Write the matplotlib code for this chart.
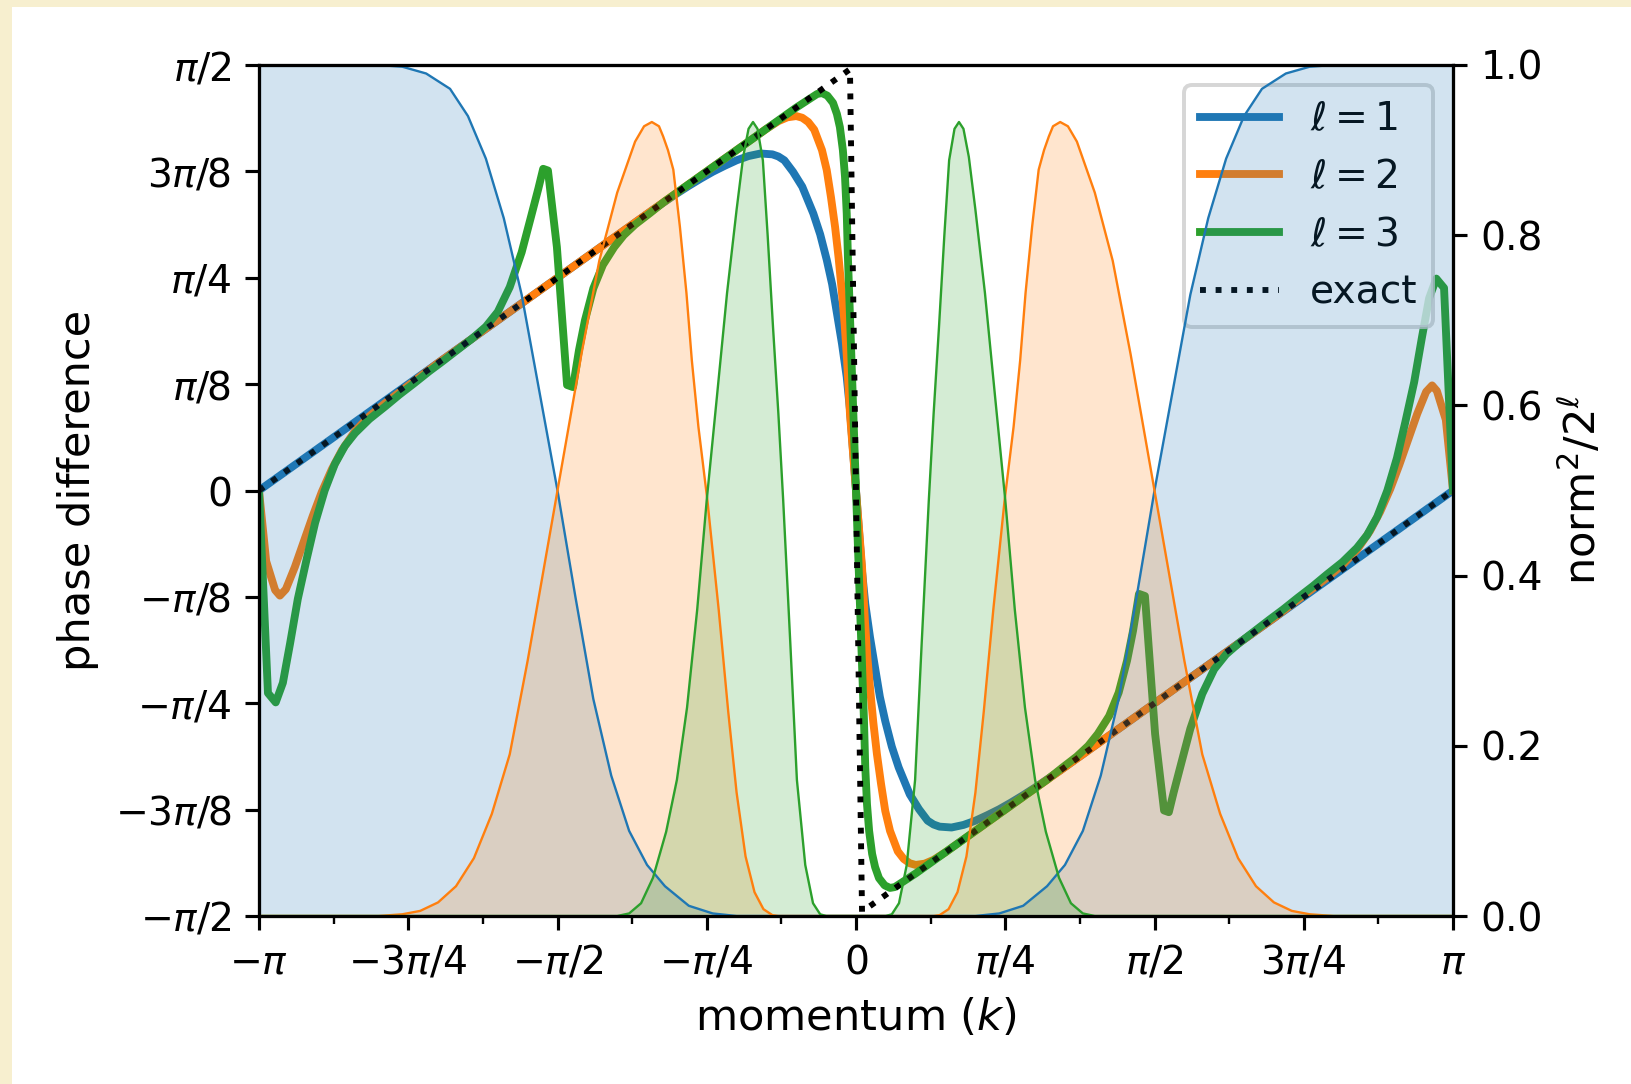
import numpy as np
import matplotlib
matplotlib.use("Agg")
import matplotlib.pyplot as plt
from matplotlib.patches import Rectangle
from matplotlib.ticker import MultipleLocator

# momentum in units of pi, phase in units of pi/2
k_l1 = [-1.0, -0.8, -0.6, -0.4, -0.34, -0.32, -0.30, -0.28, -0.26, -0.24, -0.22, -0.20, -0.18, -0.16, -0.14,
        -0.13, -0.12, -0.1055, -0.09, -0.0715, -0.06, -0.049, -0.04, -0.032, -0.0235, -0.0156, -0.0101,
        0.0101, 0.0156, 0.0235, 0.032, 0.04, 0.049, 0.06, 0.0715, 0.09, 0.1055, 0.12, 0.13,
        0.14, 0.16, 0.18, 0.20, 0.22, 0.24, 0.26, 0.28, 0.30, 0.32, 0.34, 0.4, 0.6, 0.8, 1.0]
ph_l1 = [0.0, 0.2, 0.4, 0.6, 0.66, 0.679, 0.698, 0.716, 0.733, 0.749, 0.763, 0.776, 0.786, 0.792, 0.790,
         0.785, 0.776, 0.749, 0.714, 0.651, 0.602, 0.542, 0.485, 0.417, 0.345, 0.267, 0.19,
         -0.19, -0.267, -0.345, -0.417, -0.485, -0.542, -0.602, -0.651, -0.714, -0.749, -0.776, -0.785,
         -0.790, -0.792, -0.786, -0.776, -0.763, -0.749, -0.733, -0.716, -0.698, -0.679, -0.66, -0.6, -0.4, -0.2, 0.0]

k_l2 = [-1.0, -0.988, -0.973, -0.965, -0.955, -0.94, -0.923, -0.91, -0.895, -0.878, -0.861, -0.839, -0.815,
        -0.789, -0.76, -0.73, -0.70, -0.4, -0.15, -0.13, -0.115, -0.10, -0.09, -0.08, -0.07, -0.057, -0.049,
        -0.042, -0.035, -0.029, -0.0235, -0.019, -0.015, -0.0101,
        0.0101, 0.015, 0.019, 0.0235, 0.029, 0.035, 0.042, 0.049, 0.057, 0.07, 0.08, 0.09, 0.10, 0.115,
        0.13, 0.15, 0.4, 0.70, 0.73, 0.76, 0.789, 0.815, 0.839, 0.861, 0.878, 0.895, 0.91, 0.923, 0.94,
        0.955, 0.965, 0.973, 0.988, 1.0]
ph_l2 = [0.0, -0.166, -0.234, -0.247, -0.232, -0.18, -0.112, -0.06, -0.004, 0.05, 0.095, 0.140, 0.175,
         0.205, 0.236, 0.268, 0.30, 0.6, 0.85, 0.868, 0.877, 0.880, 0.876, 0.866, 0.848, 0.80, 0.753,
         0.69, 0.619, 0.545, 0.464, 0.39, 0.307, 0.18,
         -0.18, -0.307, -0.39, -0.464, -0.545, -0.619, -0.69, -0.753, -0.80, -0.848, -0.866, -0.876, -0.880, -0.877,
         -0.868, -0.85, -0.6, -0.30, -0.268, -0.236, -0.205, -0.175, -0.140, -0.095, -0.05, 0.004, 0.06, 0.112, 0.18,
         0.232, 0.247, 0.234, 0.166, 0.0]

k_l3 = [-1.0, -0.985, -0.972, -0.960, -0.948, -0.935, -0.92, -0.906, -0.89, -0.873, -0.856, -0.839, -0.815,
        -0.789, -0.765, -0.74, -0.715, -0.693, -0.643, -0.62, -0.60, -0.58, -0.56, -0.545, -0.532, -0.524,
        -0.516, -0.501, -0.484, -0.474, -0.464, -0.454, -0.44, -0.424, -0.405, -0.389, -0.37, -0.345, -0.32,
        -0.30, -0.10, -0.077, -0.065, -0.057, -0.048, -0.0385, -0.032, -0.027, -0.022, -0.0184, -0.0155,
        -0.0134, -0.0101,
        0.0101, 0.0134, 0.0155, 0.0184, 0.022, 0.027, 0.032, 0.0385, 0.048, 0.057, 0.065, 0.077, 0.10,
        0.30, 0.32, 0.345, 0.37, 0.389, 0.405, 0.424, 0.44, 0.454, 0.464, 0.474, 0.484, 0.501, 0.516,
        0.524, 0.532, 0.545, 0.56, 0.58, 0.60, 0.62, 0.643, 0.693, 0.715, 0.74, 0.765, 0.789, 0.815,
        0.839, 0.856, 0.873, 0.89, 0.906, 0.92, 0.935, 0.948, 0.960, 0.972, 0.985, 1.0]
ph_l3 = [0.0, -0.476, -0.498, -0.452, -0.36, -0.255, -0.16, -0.076, 0.0, 0.062, 0.105, 0.135, 0.168,
         0.197, 0.225, 0.252, 0.28, 0.303, 0.357, 0.385, 0.42, 0.478, 0.56, 0.64, 0.71, 0.756,
         0.752, 0.572, 0.248, 0.243, 0.33, 0.40, 0.475, 0.53, 0.572, 0.60, 0.625, 0.652, 0.68,
         0.70, 0.90, 0.921, 0.932, 0.934, 0.928, 0.911, 0.885, 0.854, 0.80, 0.737, 0.65,
         0.542, 0.41,
         -0.41, -0.542, -0.65, -0.737, -0.80, -0.854, -0.885, -0.911, -0.928, -0.934, -0.932, -0.921, -0.90,
         -0.70, -0.68, -0.652, -0.625, -0.60, -0.572, -0.53, -0.475, -0.40, -0.33, -0.243, -0.248, -0.572, -0.752,
         -0.756, -0.71, -0.64, -0.56, -0.478, -0.42, -0.385, -0.357, -0.303, -0.28, -0.252, -0.225, -0.197, -0.168,
         -0.135, -0.105, -0.062, 0.0, 0.076, 0.16, 0.255, 0.36, 0.452, 0.498, 0.476, 0.0]

k_exact = [-1.0, -0.0101, 0.0101, 1.0]
ph_exact = [0.0, 0.99, -0.99, 0.0]

# norm^2 / 2^l
kn_l1 = [-1.0, -0.80, -0.76, -0.72, -0.68, -0.65, -0.62, -0.59, -0.56, -0.53, -0.50, -0.47, -0.44, -0.41,
         -0.38, -0.35, -0.32, -0.28, -0.24, -0.20, 0.20, 0.24, 0.28, 0.32, 0.35, 0.38, 0.41, 0.44, 0.47,
         0.50, 0.53, 0.56, 0.59, 0.62, 0.65, 0.68, 0.72, 0.76, 0.80, 1.0]
nm_l1 = [1.0, 1.0, 0.998, 0.99, 0.972, 0.94, 0.89, 0.82, 0.73, 0.615, 0.50, 0.375, 0.255, 0.165,
         0.10, 0.06, 0.035, 0.012, 0.003, 0.0, 0.0, 0.003, 0.012, 0.035, 0.06, 0.10, 0.165, 0.255, 0.375,
         0.50, 0.615, 0.73, 0.82, 0.89, 0.94, 0.972, 0.99, 0.998, 1.0, 1.0]

kn_l2 = [-1.0, -0.80, -0.76, -0.73, -0.70, -0.67, -0.64, -0.61, -0.58, -0.55, -0.52, -0.49, -0.46, -0.43,
         -0.40, -0.37, -0.355, -0.342, -0.33, -0.323, -0.315, -0.306, -0.295, -0.284, -0.275, -0.264, -0.249,
         -0.23, -0.214, -0.20, -0.185, -0.17, -0.155, -0.14, -0.13,
         0.13, 0.14, 0.155, 0.17, 0.185, 0.20, 0.214, 0.23, 0.249, 0.264, 0.275, 0.284, 0.295, 0.306,
         0.315, 0.323, 0.33, 0.342, 0.355, 0.37, 0.40, 0.43, 0.46, 0.49, 0.52, 0.55, 0.58, 0.61, 0.64,
         0.67, 0.70, 0.73, 0.76, 0.80, 1.0]
nm_l2 = [0.0, 0.0, 0.002, 0.006, 0.016, 0.035, 0.068, 0.12, 0.19, 0.30, 0.42, 0.54, 0.66, 0.77,
         0.85, 0.91, 0.928, 0.933, 0.928, 0.916, 0.90, 0.877, 0.810, 0.732, 0.653, 0.575, 0.489,
         0.36, 0.24, 0.145, 0.07, 0.028, 0.008, 0.001, 0.0,
         0.0, 0.001, 0.008, 0.028, 0.07, 0.145, 0.24, 0.36, 0.489, 0.575, 0.653, 0.732, 0.810, 0.877,
         0.90, 0.916, 0.928, 0.933, 0.928, 0.91, 0.85, 0.77, 0.66, 0.54, 0.42, 0.30, 0.19, 0.12, 0.068,
         0.035, 0.016, 0.006, 0.002, 0.0, 0.0]

kn_l3 = [-1.0, -0.40, -0.38, -0.36, -0.34, -0.318, -0.30, -0.283, -0.266, -0.250, -0.233, -0.216, -0.20,
         -0.189, -0.18, -0.1725, -0.165, -0.156, -0.148, -0.139, -0.130, -0.122, -0.11, -0.099, -0.085,
         -0.072, -0.06, -0.05,
         0.05, 0.06, 0.072, 0.085, 0.099, 0.11, 0.122, 0.130, 0.139, 0.148, 0.156, 0.165, 0.1725, 0.18,
         0.189, 0.20, 0.216, 0.233, 0.250, 0.266, 0.283, 0.30, 0.318, 0.34, 0.36, 0.38, 0.40, 1.0]
nm_l3 = [0.0, 0.0, 0.003, 0.015, 0.045, 0.099, 0.16, 0.245, 0.36, 0.489, 0.61, 0.732, 0.83,
         0.892, 0.925, 0.933, 0.925, 0.888, 0.80, 0.692, 0.59, 0.489, 0.32, 0.16, 0.06,
         0.015, 0.002, 0.0,
         0.0, 0.002, 0.015, 0.06, 0.16, 0.32, 0.489, 0.59, 0.692, 0.80, 0.888, 0.925, 0.933, 0.925,
         0.892, 0.83, 0.732, 0.61, 0.489, 0.36, 0.245, 0.16, 0.099, 0.045, 0.015, 0.003, 0.0, 0.0]

x_ticks = [r'$-\pi$', r'$-3\pi/4$', r'$-\pi/2$', r'$-\pi/4$', r'$0$', r'$\pi/4$', r'$\pi/2$', r'$3\pi/4$', r'$\pi$']
y_ticks = [r'$-\pi/2$', r'$-3\pi/8$', r'$-\pi/4$', r'$-\pi/8$', r'$0$', r'$\pi/8$', r'$\pi/4$', r'$3\pi/8$', r'$\pi/2$']

phases = [(k_l1, ph_l1, 'tab:blue', r'$\ell=1$'),
          (k_l2, ph_l2, 'tab:orange', r'$\ell=2$'),
          (k_l3, ph_l3, 'tab:green', r'$\ell=3$')]
norms = [(kn_l1, nm_l1, 'tab:blue'), (kn_l2, nm_l2, 'tab:orange'), (kn_l3, nm_l3, 'tab:green')]

W, H, DPI = 1631, 1084, 283
fig = plt.figure(figsize=(W / DPI, H / DPI), dpi=DPI)
fig.patch.set_facecolor('#f7efcf')
fig.add_artist(Rectangle((12 / W, 0), 1, (H - 7) / H, transform=fig.transFigure,
                         facecolor='white', edgecolor='none', zorder=0))

ax1 = fig.add_axes([259 / W, 1 - 916 / H, (1453 - 259) / W, (916 - 65) / H])
for k, ph, c, lab in phases:
    ax1.plot(np.array(k) * np.pi, np.array(ph) * np.pi / 2, color=c, lw=2, label=lab)
ax1.plot(np.array(k_exact) * np.pi, np.array(ph_exact) * np.pi / 2, 'k:', lw=1.5, label='exact')

ax1.set_xlim(-np.pi, np.pi)
ax1.set_ylim(-np.pi / 2, np.pi / 2)
ax1.set_xticks(np.linspace(-np.pi, np.pi, 9), x_ticks)
ax1.set_yticks(np.linspace(-np.pi / 2, np.pi / 2, 9), y_ticks)
ax1.xaxis.set_minor_locator(MultipleLocator(np.pi / 8))
ax1.set_xlabel(r'momentum ($k$)', fontsize=11)
ax1.set_ylabel('phase difference', fontsize=11)
ax1.legend(loc='upper right', fontsize=10)

ax2 = ax1.twinx()
for k, nm, c in norms:
    kk = np.array(k) * np.pi
    ax2.fill_between(kk, nm, color=c, alpha=0.2, lw=0)
    ax2.plot(kk, nm, color=c, lw=0.6)
ax2.set_ylim(0, 1)
ax2.set_ylabel(r'norm$^2/2^\ell$', fontsize=11)

fig.savefig('out.png', dpi=DPI, facecolor=fig.get_facecolor())
